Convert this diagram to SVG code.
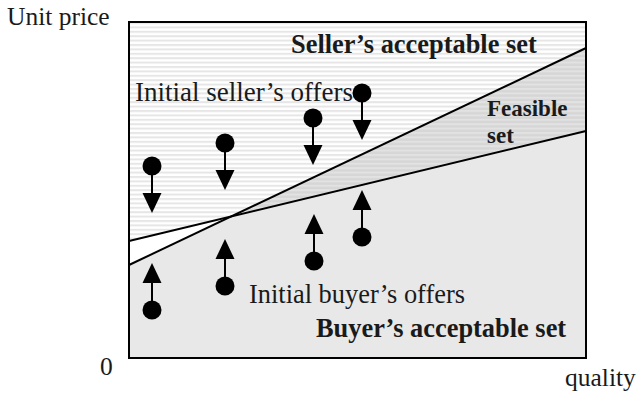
<svg xmlns="http://www.w3.org/2000/svg" width="638" height="396" viewBox="0 0 638 396">
  <defs>
    <pattern id="stripes" patternUnits="userSpaceOnUse" width="10" height="4.4">
      <rect width="10" height="4.4" fill="#ffffff"/>
      <rect width="10" height="2" fill="#e6e6e6"/>
    </pattern>
    <pattern id="stripesDark" patternUnits="userSpaceOnUse" width="10" height="4.4">
      <rect width="10" height="4.4" fill="#d6d6d6"/>
      <rect width="10" height="2" fill="#e2e2e2"/>
    </pattern>
  </defs>
  <style>
    text { font-family: "Liberation Serif", "Times New Roman", serif; fill: #1a1a1a; }
    .reg { font-size: 25.5px; }
    .bold { font-size: 26.4px; font-weight: bold; }
    .boundary { stroke: #000; stroke-width: 2; fill: none; }
    .stem { stroke: #000; stroke-width: 2; }
    .head, .dot { fill: #000; }
  </style>

  <g id="regions">
    <polygon id="seller-set-area" points="129,22 586,22 586,48 231.5,216.3 129,241" fill="url(#stripes)"/>
    <polygon id="gap-area" points="129,241 231.5,216.3 129,265" fill="#ffffff"/>
    <polygon id="feasible-area" points="231.5,216.3 586,48 586,131" fill="url(#stripesDark)"/>
    <polygon id="buyer-set-area" points="129,265 231.5,216.3 586,131 586,358 129,358" fill="#e8e8e8"/>
  </g>

  <g id="boundaries">
    <line class="boundary" x1="129" y1="265" x2="586" y2="48"/>
    <line class="boundary" x1="129" y1="241" x2="586" y2="131"/>
    <rect class="boundary" x="129" y="22" width="457" height="336"/>
  </g>

  <g id="seller-offers">
    <g id="seller-offer-1">
      <line class="stem" x1="152" y1="166" x2="152" y2="194"/>
      <circle class="dot" cx="152" cy="166" r="9.5"/>
      <polygon class="head" points="142.5,193 161.5,193 152,213"/>
    </g>
    <g id="seller-offer-2">
      <line class="stem" x1="225" y1="143" x2="225" y2="171"/>
      <circle class="dot" cx="225" cy="143" r="9.5"/>
      <polygon class="head" points="215.5,170 234.5,170 225,190"/>
    </g>
    <g id="seller-offer-3">
      <line class="stem" x1="313" y1="118" x2="313" y2="146"/>
      <circle class="dot" cx="313" cy="118" r="9.5"/>
      <polygon class="head" points="303.5,145 322.5,145 313,165"/>
    </g>
    <g id="seller-offer-4">
      <line class="stem" x1="362" y1="93" x2="362" y2="121"/>
      <circle class="dot" cx="362" cy="93" r="9.5"/>
      <polygon class="head" points="352.5,120 371.5,120 362,140"/>
    </g>
  </g>

  <g id="buyer-offers">
    <g id="buyer-offer-1">
      <line class="stem" x1="152" y1="310" x2="152" y2="282"/>
      <circle class="dot" cx="152" cy="310" r="9.5"/>
      <polygon class="head" points="142.5,283 161.5,283 152,263"/>
    </g>
    <g id="buyer-offer-2">
      <line class="stem" x1="225" y1="286" x2="225" y2="258"/>
      <circle class="dot" cx="225" cy="286" r="9.5"/>
      <polygon class="head" points="215.5,259 234.5,259 225,239"/>
    </g>
    <g id="buyer-offer-3">
      <line class="stem" x1="314" y1="261" x2="314" y2="233"/>
      <circle class="dot" cx="314" cy="261" r="9.5"/>
      <polygon class="head" points="304.5,234 323.5,234 314,214"/>
    </g>
    <g id="buyer-offer-4">
      <line class="stem" x1="362" y1="237" x2="362" y2="209"/>
      <circle class="dot" cx="362" cy="237" r="9.5"/>
      <polygon class="head" points="352.5,210 371.5,210 362,190"/>
    </g>
  </g>

  <g id="labels">
    <text class="reg" x="7" y="25">Unit price</text>
    <text class="bold" x="291" y="53">Seller’s acceptable set</text>
    <text class="reg" x="135" y="101" style="font-size:27px">Initial seller’s offers</text>
    <text class="bold" x="487" y="116" style="font-size:23px">Feasible</text>
    <text class="bold" x="487" y="143" style="font-size:23px">set</text>
    <text class="reg" x="249" y="303" style="font-size:26.4px">Initial buyer’s offers</text>
    <text class="bold" x="316" y="337">Buyer’s acceptable set</text>
    <text class="reg" x="100" y="375">0</text>
    <text class="reg" x="565" y="386">quality</text>
  </g>
</svg>
